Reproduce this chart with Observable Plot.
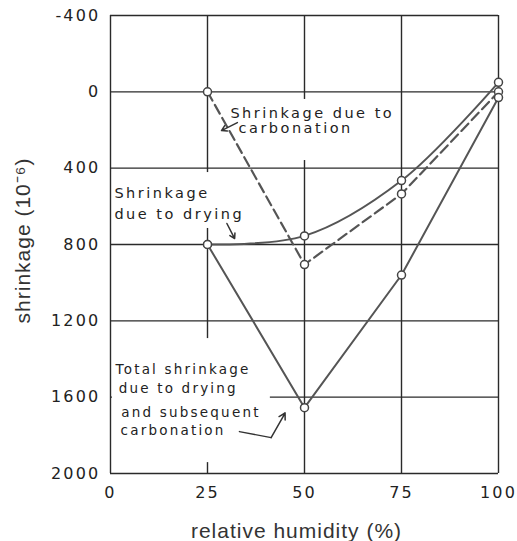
<!DOCTYPE html>
<html><head><meta charset="utf-8">
<script src="https://cdn.jsdelivr.net/npm/d3@7"></script>
<script src="https://cdn.jsdelivr.net/npm/@observablehq/plot@0.6"></script>
<style>body{margin:0;background:#fff}</style>
</head><body><div id="chart"></div>
<script>
// Data
const humidity = [25, 50, 75, 100];
const drying = [800, 755, 465, -50];
const carbonation = [0, 905, 535, 0];
const total = [800, 1655, 960, 30];
const xTicks = [0, 25, 50, 75, 100];
const yTicks = [-400, 0, 400, 800, 1200, 1600, 2000];
const xTitle = "relative humidity (%)";
const yTitle = "shrinkage (10\u207B\u2076)";

// Annotation texts (anchored in data coordinates)
const labelsA = ["Shrinkage due to", "carbonation", "Shrinkage", "due to drying"];
const labelsAx = [30.9, 33.0, 1.0, 1.0];
const labelsAy = [111, 192, 533, 643];
const labelsB = ["Total shrinkage", "due to drying", "and subsequent", "carbonation"];
const labelsBx = [1.3, 2.1, 2.8, 2.6];
const labelsBy = [1455, 1555, 1680, 1775];

const series = [
  {name: "drying", values: drying},
  {name: "carbonation", values: carbonation},
  {name: "total", values: total}
];
const rows = series.flatMap(s => humidity.map((h, i) => ({series: s.name, h, v: s.values[i]})));
const annA = labelsA.map((t, i) => ({t, x: labelsAx[i], y: labelsAy[i]}));
const annB = labelsB.map((t, i) => ({t, x: labelsBx[i], y: labelsBy[i]}));
// white label boxes that hide the grid behind the annotations
const boxes = [
  {x1: 30.4, x2: 73.7, y1: 40, y2: 360},
  {x1: 0.5, x2: 34.5, y1: 423, y2: 716},
  {x1: 0.5, x2: 41.2, y1: 1293, y2: 1943}
];
const arrows = [
  {x1: 32.7, y1: 161, x2: 28.6, y2: 203},
  {x1: 30.0, y1: 690, x2: 32.0, y2: 769},
  {x1: 41.4, y1: 1812, x2: 45.0, y2: 1683}
];
const leader = [{x: 33.2, y: 1780}, {x: 41.4, y: 1812}];

const lineColor = "#555";
const gridColor = "#2a2a2a";

const chart = Plot.plot({
  width: 517,
  height: 541,
  marginLeft: 110,
  marginRight: 19,
  marginTop: 15,
  marginBottom: 68,
  style: {fontFamily: "DejaVu Sans", background: "#fff", color: "#222"},
  x: {domain: [0, 100]},
  y: {domain: [-400, 2000], reverse: true},
  marks: [
    Plot.ruleX(xTicks, {stroke: gridColor, strokeWidth: 1.4}),
    Plot.ruleY(yTicks, {stroke: gridColor, strokeWidth: 1.4}),
    Plot.rect(boxes, {x1: "x1", x2: "x2", y1: "y1", y2: "y2", fill: "white"}),
    Plot.axisX(xTicks, {tickSize: 0, tickPadding: 13, fontSize: 16, tickFormat: d => String(d), label: null}),
    Plot.axisY(yTicks, {tickSize: 0, tickPadding: 10, fontSize: 16, tickFormat: d => String(d), label: null}),
    Plot.line(rows.filter(d => d.series === "drying"), {x: "h", y: "v", stroke: lineColor, strokeWidth: 2, curve: "catmull-rom"}),
    Plot.line(rows.filter(d => d.series === "carbonation"), {x: "h", y: "v", stroke: lineColor, strokeWidth: 2.2, strokeDasharray: "10,5"}),
    Plot.line(rows.filter(d => d.series === "total"), {x: "h", y: "v", stroke: lineColor, strokeWidth: 2}),
    Plot.dot(rows, {x: "h", y: "v", r: 4, fill: "white", stroke: "#444", strokeWidth: 1.5}),
    Plot.text(annA, {x: "x", y: "y", text: "t", textAnchor: "start", fontSize: 14.5, fill: "#222", stroke: "white", strokeWidth: 4, ariaDescription: "annA"}),
    Plot.text(annB, {x: "x", y: "y", text: "t", textAnchor: "start", fontSize: 13.5, fill: "#222", stroke: "white", strokeWidth: 4, ariaDescription: "annB"}),
    Plot.line(leader, {x: "x", y: "y", stroke: "#333", strokeWidth: 1.3}),
    Plot.arrow(arrows, {x1: "x1", y1: "y1", x2: "x2", y2: "y2", stroke: "#333", strokeWidth: 1.5, headLength: 7}),
    Plot.text([yTitle], {frameAnchor: "left", textAnchor: "middle", dx: -87, dy: -4, rotate: -90, fontSize: 21, fontFamily: "Liberation Sans", fill: "#333", ariaDescription: "ytitle"}),
    Plot.text([xTitle], {frameAnchor: "bottom", textAnchor: "middle", lineAnchor: "middle", dx: -8, dy: 58, fontSize: 21, fontFamily: "Liberation Sans", fill: "#333", ariaDescription: "xtitle"})
  ]
});
const setLS = (sel, ls) => chart.querySelectorAll(sel).forEach(t => t.setAttribute("letter-spacing", ls));
setLS('g[aria-description="annA"] text', "2.5");
setLS('g[aria-description="annB"] text', "2.2");
setLS('g[aria-label="x-axis tick label"] text', "2.2");
setLS('g[aria-label="y-axis tick label"] text', "2.2");
setLS('g[aria-description="xtitle"] text', "1");
setLS('g[aria-description="ytitle"] text', "1");
document.getElementById("chart").appendChild(chart);
</script>
</body></html>
